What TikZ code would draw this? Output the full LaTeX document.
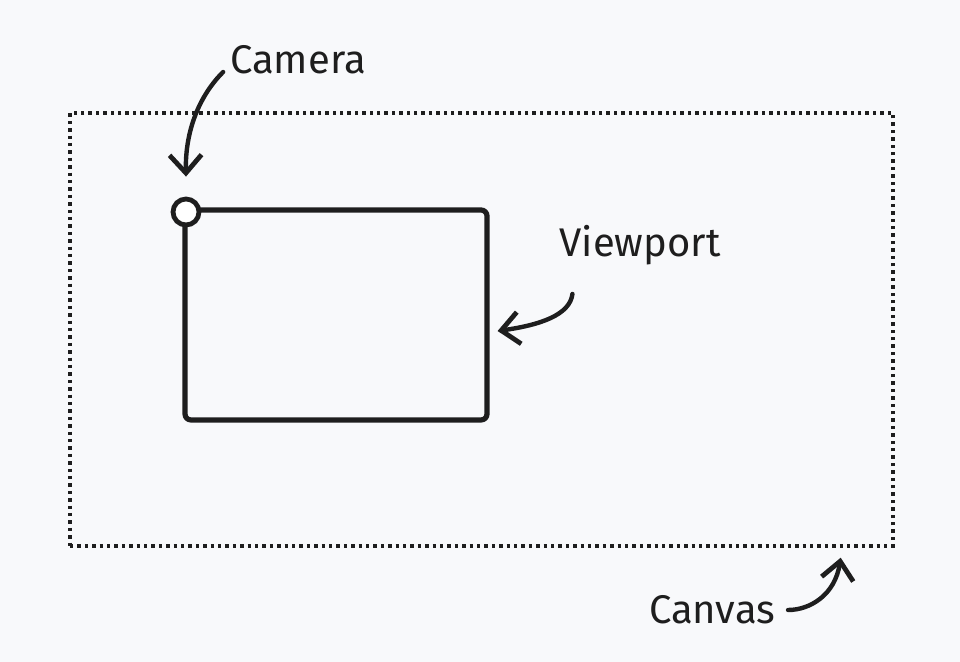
\documentclass[tikz,border=0pt]{standalone}
\usepackage{fontspec}
\setmainfont{Fira Sans}
\usetikzlibrary{arrows.meta,positioning}
\definecolor{bgcol}{HTML}{F8F9FB}
\definecolor{ink}{HTML}{1E1E1E}
\begin{document}
\begin{tikzpicture}[x=0.5pt,y=-0.5pt,
labelnode/.style={text=ink, font=\fontsize{20}{24}\selectfont},
pointer/.style={draw=ink, line width=2.2pt, line cap=round, -{Straight Barb[length=9pt,width=16pt,line width=2.4pt]}},
]
%Background
\fill[bgcol] (0,0) rectangle (960,662);
\useasboundingbox (0,0) rectangle (960,662);

%Nodes
\node[draw=ink, dotted, line width=1.7pt, minimum width=411.5pt, minimum height=216.5pt, inner sep=0pt] (canvas) at (481.5,329.5) {};
\node[draw=ink, line width=2.6pt, rounded corners=3pt, minimum width=151pt, minimum height=105pt, inner sep=0pt] (viewport) at (336,315) {};
\node[circle, draw=ink, fill=white, line width=2.4pt, minimum size=13pt, inner sep=0pt] (camera) at (186,212) {};
\node[labelnode] (cameralabel) at (298,60) {Camera};
\node[labelnode] (viewportlabel) at (640,245) {Viewport};
\node[labelnode] (canvaslabel) at (712,610) {Canvas};

%Lines
\draw[pointer] ([yshift=-6pt]cameralabel.west) .. controls (200,95) and (185,130) .. ([yshift=10pt]camera.north);
\draw[pointer] ([xshift=10pt,yshift=-11pt]viewportlabel.south west) .. controls (570,315) and (540,325) .. ([xshift=4pt,yshift=-8pt]viewport.east);
\draw[pointer] ([xshift=3pt]canvaslabel.east) .. controls (810,610) and (835,595) .. ([xshift=-27pt,yshift=-5pt]canvas.south east);
\end{tikzpicture}
\end{document}
